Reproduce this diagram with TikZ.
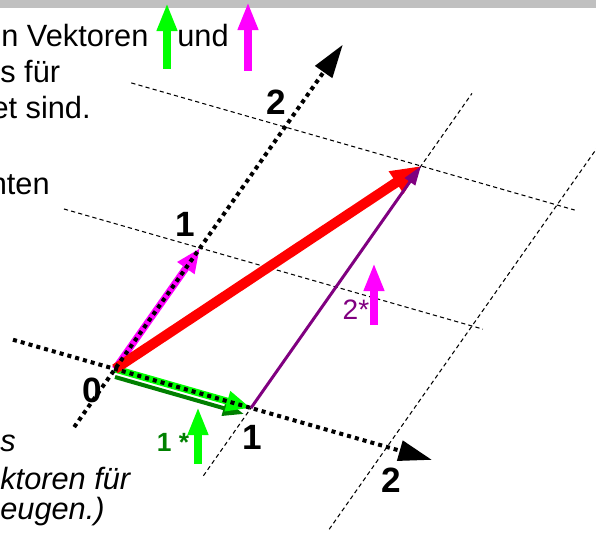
\documentclass[tikz,border=0pt]{standalone}
\usepackage{fontspec}
\setmainfont{Liberation Sans}
\usetikzlibrary{arrows.meta,calc}
\definecolor{leiste}{RGB}{192,192,192}
\definecolor{hellgruen}{RGB}{0,255,0}
\definecolor{dunkelgruen}{RGB}{0,128,0}
\definecolor{pink}{RGB}{255,0,255}
\definecolor{lila}{RGB}{128,0,128}
\tikzset{
  achse/.style={line width=2.3pt,dash pattern=on 2.3pt off 2.3pt,-{Triangle[length=19pt,width=11.5pt]}},
  gitter/.style={line width=0.6pt,dash pattern=on 2.4pt off 1.8pt},
  zahl/.style={font=\fontsize{20}{24}\selectfont\bfseries,inner sep=0pt,anchor=base},
  satz/.style={font=\fontsize{17.5}{21}\selectfont,inner sep=0pt,anchor=base west},
  hochpfeil/.style={line width=4.5pt,-{Triangle[length=16pt,width=10.8pt]}},
}

\begin{document}
\begin{tikzpicture}[x=0.02cm,y=-0.02cm]
  \useasboundingbox (0,0) rectangle (596,536);
  \clip (0,0) rectangle (596,536);
  % Leiste oben
  \fill[leiste] (0,0) rectangle (596,8);
  % Ursprung und Gitterpunkte
  \coordinate (O) at (115,369);
  \coordinate (G10) at (251,408);
  \coordinate (G20) at (387,447);
  \coordinate (G01) at (200,248);
  \coordinate (G02) at (285,127);
  \coordinate (G11) at (336,287);
  \coordinate (G21) at (472,326);
  \coordinate (G12) at (421,166);
  % Gitterlinien
  \foreach \a/\b/\s/\e in {G01/G11/-1/2.08,G02/G12/-1.13/2.13,G10/G11/-0.56/2.6,G20/G21/-0.68/2.6}
    \draw[gitter] ($(\a)!\s!(\b)$) -- ($(\a)!\e!(\b)$);
  % Basisvektoren
  \coordinate (Ou) at (115,377);
  \coordinate (G10u) at (244,414);
  \draw[dunkelgruen,line width=2.3pt,-{Triangle[length=12pt,width=8.5pt]}] (Ou) -- (G10u);
  \draw[white,line width=5.2pt,shorten >=16pt] (O) -- (G10);
  \draw[hellgruen,line width=4pt,-{Triangle[length=14pt,width=11pt]}] (O) -- (G10);
  \draw[pink,line width=4pt,-{Triangle[length=14pt,width=11pt]}] (O) -- (G01);
  % Summe
  \draw[red,line width=5.7pt,-{Triangle[length=17pt,width=14pt]}] (O) -- (G12);
  \draw[lila,line width=1.7pt,-{Triangle[length=11pt,width=7pt]}] (G10) -- (G12);
  % Achsen
  \coordinate (x1a) at ($(O)!-0.75!(G10)$);
  \coordinate (x1e) at ($(O)!2.33!(G10)$);
  \coordinate (x2a) at ($(O)!-0.48!(G01)$);
  \coordinate (x2e) at ($(O)!2.68!(G01)$);
  \draw[achse] (x1a) -- (x1e);
  \draw[achse] (x2a) -- (x2e);
  % Beschriftung
  \node[zahl] (n2o) at (276,115) {2};
  \node[zahl] (n1o) at (185,237) {1};
  \node[zahl] (n0) at (92,403) {0};
  \node[zahl] (n1u) at (252,450) {1};
  \node[zahl] (n2u) at (391,493) {2};
  \node[font=\fontsize{16}{19}\selectfont,text=lila,inner sep=0pt,anchor=base] (s2) at (356,320) {2*};
  \node[font=\fontsize{15}{18}\selectfont\bfseries,text=dunkelgruen,inner sep=0pt,anchor=base] (s1) at (173,452) {1 *};
  % kleine Pfeile
  \coordinate (p1u) at (167,69);  \coordinate (p1o) at (167,3);
  \coordinate (p2u) at (248,71);  \coordinate (p2o) at (248,2);
  \coordinate (p3u) at (198,464); \coordinate (p3o) at (198,407);
  \coordinate (p4u) at (374,325); \coordinate (p4o) at (374,263);
  \draw[hochpfeil,hellgruen] (p1u) -- (p1o);
  \draw[hochpfeil,pink] (p2u) -- (p2o);
  \draw[hochpfeil,hellgruen] (p3u) -- (p3o);
  \draw[hochpfeil,pink] (p4u) -- (p4o);
  % Text
  \node[satz] (t1) at (1,47) {n Vektoren};
  \node[satz] (t2) at (177,47) {und};
  \node[satz] (t3) at (0,83) {s für};
  \node[satz,anchor=base east] (t4) at (91,119) {et sind.};
  \node[satz,anchor=base east] (t5) at (50,195) {nten};
  \node[satz,font=\fontsize{17.5}{21}\selectfont\itshape] (b1) at (0,452) {s};
  \node[satz,font=\fontsize{17.5}{21}\selectfont\itshape] (b2) at (0,490) {ktoren für};
  \node[satz,font=\fontsize{17.5}{21}\selectfont\itshape] (b3) at (0,520) {eugen.)};
\end{tikzpicture}
\end{document}
